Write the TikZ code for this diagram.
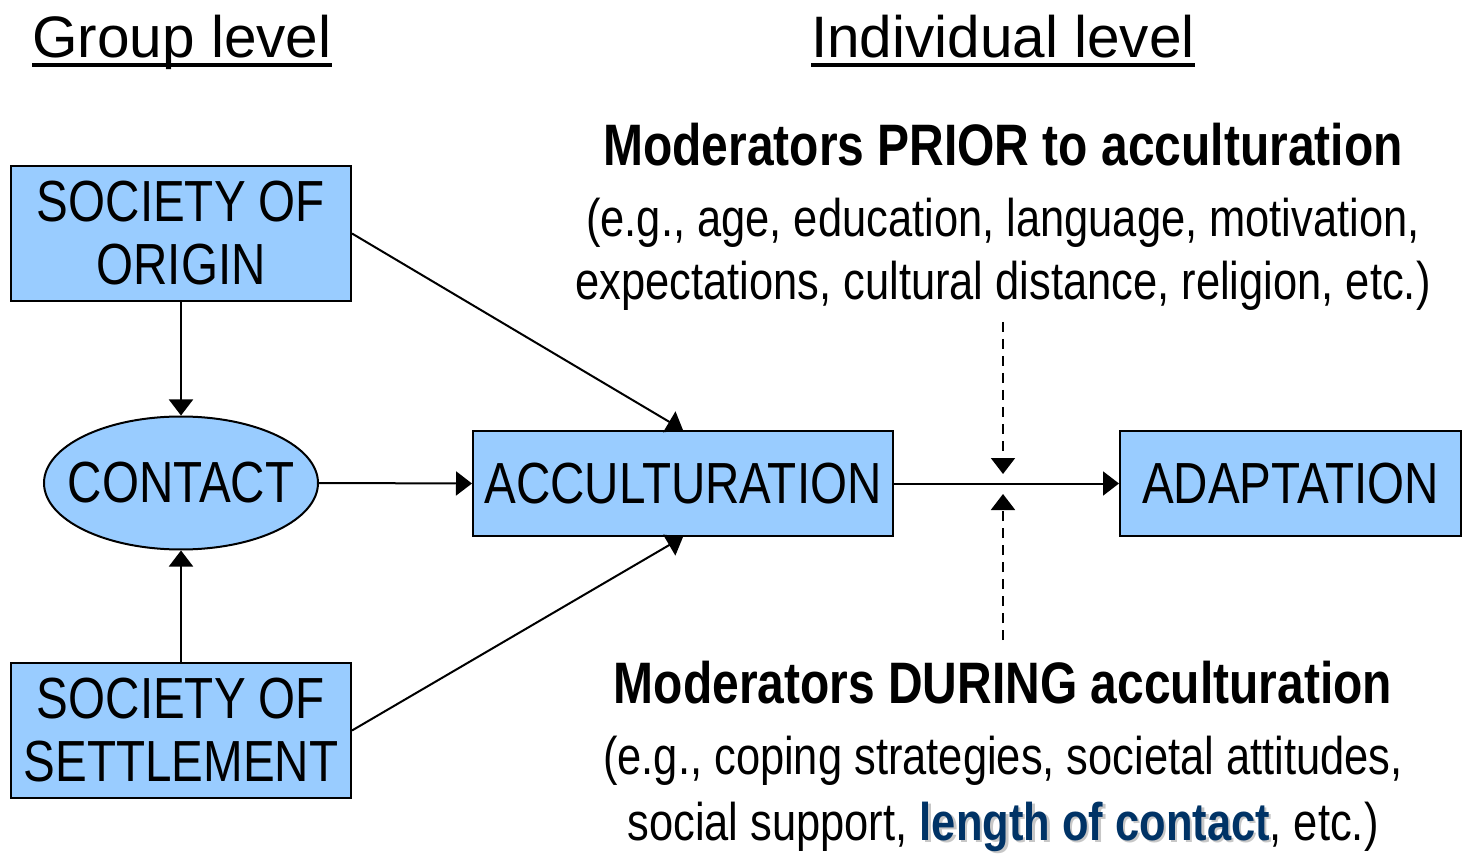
\documentclass[tikz,border=0pt]{standalone}
\usepackage{fontspec}
\setmainfont{Liberation Sans}
\newfontfamily\narrowfont{Liberation Sans}[FakeStretch=0.82]
\usetikzlibrary{arrows.meta,shapes.geometric}
\definecolor{boxblue}{HTML}{99CCFF}
\definecolor{navy}{HTML}{003366}
\newcommand\headfont{\fontsize{58.5}{64}\selectfont}
\newcommand\boxfont{\narrowfont\fontsize{58}{63}\selectfont}
\newcommand\modfont{\narrowfont\bfseries\fontsize{58.5}{64}\selectfont}
\newcommand\notefont{\narrowfont\fontsize{53}{64}\selectfont}
% heavy underline for the level headings
\newcommand\headrule[1]{\setbox0\hbox{#1}\rlap{\rule[-9pt]{\wd0}{4pt}}\box0}
% navy text with a soft grey drop shadow
\newcommand\shadowed[1]{{\color{black!22}\rlap{\kern2.5pt\raisebox{-2.5pt}{#1}}}{\color{navy}#1}}
\begin{document}
\begin{tikzpicture}[x=1pt,y=-1pt,
  box/.style={draw=black,line width=2pt,fill=boxblue,rectangle,inner sep=0pt,
    align=center,font=\boxfont},
  conn/.style={line width=2pt,-{Triangle[length=16pt,width=24pt]}},
  dconn/.style={conn,dash pattern=on 10pt off 7pt},
  heading/.style={anchor=base,inner sep=0pt,font=\headfont},
  note/.style={anchor=base,inner sep=0pt,align=center},
]
\useasboundingbox (0,0) rectangle (1470,858);

% level headings
\node[heading] (group) at (182,58) {\headrule{Group level}};
\node[heading] (indiv) at (1003,58) {\headrule{Individual level}};

% group-level boxes
\node[box,minimum width=340pt,minimum height=135pt] (origin) at (181,233.5) {SOCIETY OF\\ORIGIN};
\node[box,ellipse,minimum width=274pt,minimum height=133pt] (contact) at (181,483) {};
\node[font=\boxfont,inner sep=0pt] (contacttext) at (contact.center) {CONTACT};
\node[box,minimum width=340pt,minimum height=135pt] (settle) at (181,730.5) {SOCIETY OF\\SETTLEMENT};

% individual-level boxes
\node[box,minimum width=420pt,minimum height=105pt] (accult) at (683,483.5) {ACCULTURATION};
\node[box,minimum width=341pt,minimum height=105pt] (adapt) at (1290.5,483.5) {ADAPTATION};

% moderators
\node[note,font=\modfont] (prior) at (1003,166) {Moderators PRIOR to acculturation};
\node[note,font=\notefont] (priorex1) at (1003,237) {(e.g., age, education, language, motivation,};
\node[note,font=\notefont] (priorex2) at (1003,300) {expectations, cultural distance, religion, etc.)};
\node[note,font=\modfont] (during) at (1003,703) {Moderators DURING acculturation};
\node[note,font=\notefont] (duringex1) at (1003,774) {(e.g., coping strategies, societal attitudes,};
\node[note,font=\notefont] (duringex2) at (1003,840) {social support, {\bfseries\shadowed{length of contact}}, etc.)};

% connectors
\draw[conn] (origin.south) -- (contact.north);
\draw[conn] (settle.north) -- (contact.south);
\draw[conn] (contact.east) -- (accult.west);
\draw[conn] (origin.east) -- (accult.north);
\draw[conn] (settle.east) -- (accult.south);
\draw[conn] (accult.east) -- (adapt.west);

% moderating influences on the acculturation-adaptation link
\coordinate (priorfoot) at (1003,322);
\coordinate (priortip) at (1003,474);
\coordinate (duringfoot) at (1003,640);
\coordinate (duringtip) at (1003,494);
\draw[dconn] (priorfoot) -- (priortip);
\draw[dconn] (duringfoot) -- (duringtip);
\end{tikzpicture}
\end{document}
